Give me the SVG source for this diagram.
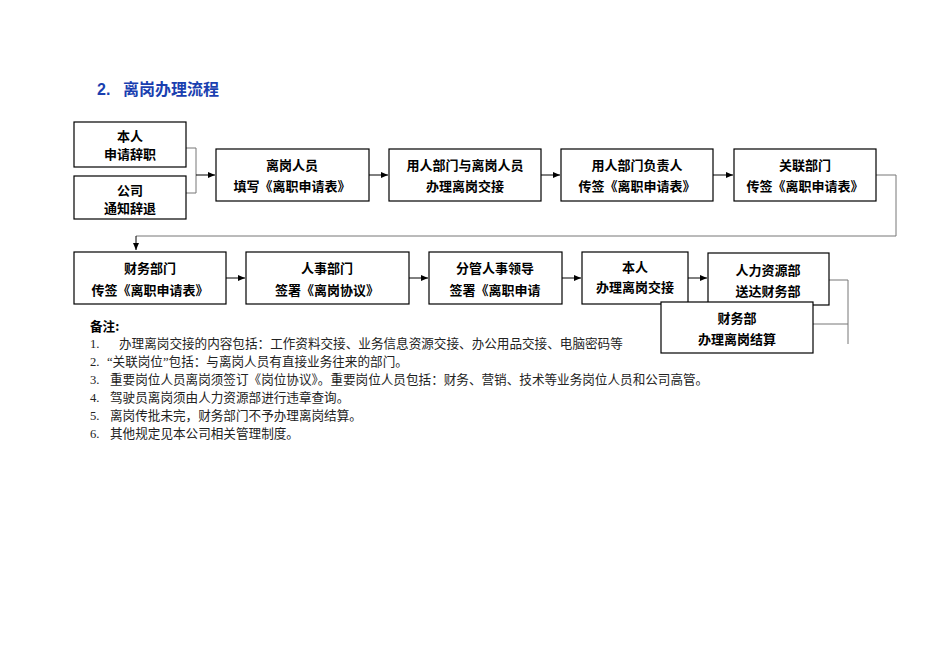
<svg xmlns="http://www.w3.org/2000/svg" width="950" height="672" viewBox="0 0 950 672">
<style>
.b{fill:#fff;stroke:#000;stroke-width:1.2}
.t{font-family:"Liberation Sans","Noto Sans CJK SC",sans-serif;font-size:13px;font-weight:bold;text-anchor:middle;fill:#000}
.n{font-family:"Liberation Serif","Noto Sans CJK SC",serif;font-size:12.6px;fill:#222}
.l{fill:none;stroke:#000;stroke-width:1}
.g{fill:none;stroke:#777;stroke-width:1}
.h{font-family:"Liberation Sans","Noto Sans CJK SC",sans-serif;font-size:16px;font-weight:bold;fill:#1a3fb0}
</style>
<defs><marker id="a" markerWidth="8" markerHeight="8" refX="7" refY="4" orient="auto" markerUnits="userSpaceOnUse"><path d="M0,1 L7,4 L0,7z" fill="#000"/></marker></defs>
<rect width="950" height="672" fill="#fff"/>
<text x="97" y="95" class="h">2.</text><text x="123" y="95" class="h">离岗办理流程</text>
<g id="notes">
<text x="90" y="331" class="n" style="font-weight:bold;font-family:'Noto Sans CJK SC',sans-serif;fill:#000">备注:</text>
<text x="90" y="348" class="n">1.</text><text x="119" y="348" class="n">办理离岗交接的内容包括：工作资料交接、业务信息资源交接、办公用品交接、电脑密码等</text>
<text x="90" y="366" class="n">2.</text><text x="107" y="366" class="n">“关联岗位”包括：与离岗人员有直接业务往来的部门。</text>
<text x="90" y="384" class="n">3.</text><text x="110" y="384" class="n">重要岗位人员离岗须签订《岗位协议》。重要岗位人员包括：财务、营销、技术等业务岗位人员和公司高管。</text>
<text x="90" y="402" class="n">4.</text><text x="110" y="402" class="n">驾驶员离岗须由人力资源部进行违章查询。</text>
<text x="90" y="420" class="n">5.</text><text x="110" y="420" class="n">离岗传批未完，财务部门不予办理离岗结算。</text>
<text x="90" y="438" class="n">6.</text><text x="110" y="438" class="n">其他规定见本公司相关管理制度。</text>
</g>
<g id="connectors">
<path class="g" d="M186,148 H196 V193 H186"/>
<path class="l" d="M196,175 H215" marker-end="url(#a)"/>
<path class="l" d="M369,175 H388" marker-end="url(#a)"/>
<path class="l" d="M541,175 H560" marker-end="url(#a)"/>
<path class="l" d="M713,175 H733" marker-end="url(#a)"/>
<path class="g" d="M876,175 H896 V236 H136"/>
<path class="l" d="M136,236 V250" marker-end="url(#a)"/>
<path class="l" d="M226,278 H245" marker-end="url(#a)"/>
<path class="l" d="M409,278 H428" marker-end="url(#a)"/>
<path class="l" d="M562,278 H581" marker-end="url(#a)"/>
<path class="l" d="M688,278 H707" marker-end="url(#a)"/>
<path class="g" d="M829,280 H848 V344 M813,324 H848"/>
</g>
<g id="n1"><rect class="b" x="74" y="122" width="112" height="45"/><text class="t" x="130" y="141">本人</text><text class="t" x="130" y="159">申请辞职</text></g>
<g id="n2"><rect class="b" x="74" y="176" width="112" height="43"/><text class="t" x="130" y="195">公司</text><text class="t" x="130" y="213">通知辞退</text></g>
<g id="n3"><rect class="b" x="216" y="149" width="153" height="52"/><text class="t" x="292" y="170">离岗人员</text><text class="t" x="292" y="191">填写《离职申请表》</text></g>
<g id="n4"><rect class="b" x="389" y="149" width="152" height="52"/><text class="t" x="465" y="170">用人部门与离岗人员</text><text class="t" x="465" y="191">办理离岗交接</text></g>
<g id="n5"><rect class="b" x="561" y="149" width="152" height="52"/><text class="t" x="637" y="170">用人部门负责人</text><text class="t" x="637" y="191">传签《离职申请表》</text></g>
<g id="n6"><rect class="b" x="734" y="149" width="142" height="52"/><text class="t" x="805" y="170">关联部门</text><text class="t" x="805" y="191">传签《离职申请表》</text></g>
<g id="n7"><rect class="b" x="74" y="252" width="152" height="52"/><text class="t" x="150" y="273">财务部门</text><text class="t" x="150" y="295">传签《离职申请表》</text></g>
<g id="n8"><rect class="b" x="246" y="252" width="163" height="52"/><text class="t" x="327" y="273">人事部门</text><text class="t" x="327" y="295">签署《离岗协议》</text></g>
<g id="n9"><rect class="b" x="429" y="252" width="133" height="52"/><text class="t" x="495" y="273">分管人事领导</text><text class="t" x="495" y="295">签署《离职申请</text></g>
<g id="n10"><rect class="b" x="582" y="252" width="106" height="52"/><text class="t" x="635" y="272">本人</text><text class="t" x="635" y="292">办理离岗交接</text></g>
<g id="n11"><rect class="b" x="708" y="253" width="121" height="52"/><text class="t" x="768" y="275">人力资源部</text><text class="t" x="768" y="296">送达财务部</text></g>
<g id="n12"><rect class="b" x="661" y="302" width="152" height="51"/><text class="t" x="737" y="323">财务部</text><text class="t" x="737" y="344">办理离岗结算</text></g>
</svg>
